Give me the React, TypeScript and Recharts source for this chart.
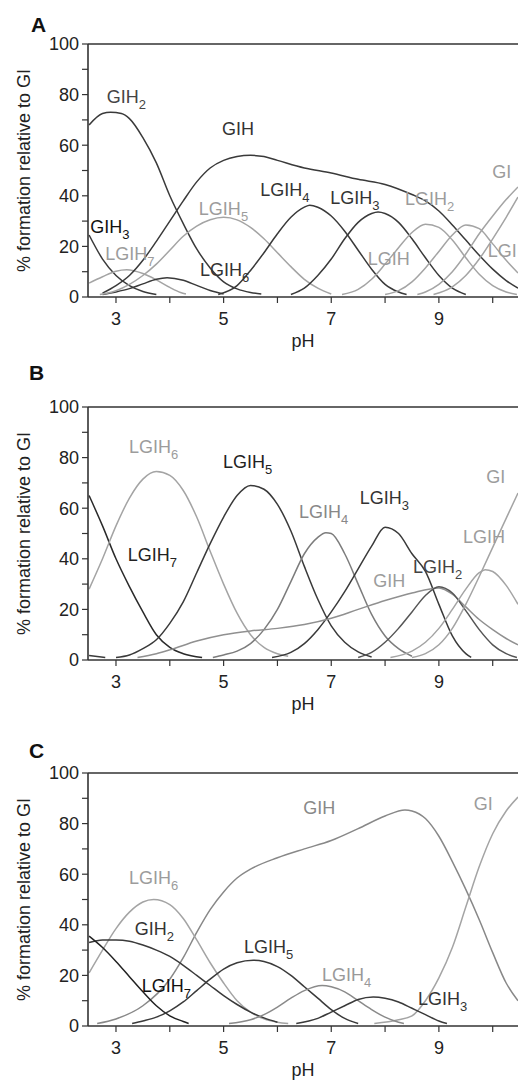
import React from 'react';
import { LineChart, Line, XAxis, YAxis, ReferenceLine, ReferenceDot } from 'recharts';

// pH / % pairs
const aGIH3 = [[2.5, 24.5], [2.75, 15], [3, 8.5], [3.25, 4.5], [3.5, 2.2], [3.75, 1]];
const aGIH2 = [[2.5, 68], [2.75, 72.5], [2.9, 73], [3.1, 72.5], [3.25, 70.5], [3.5, 63], [3.75, 53], [4, 40], [4.25, 29], [4.5, 19], [4.75, 11.5], [5, 6], [5.25, 3.2], [5.5, 1.8], [5.7, 1.2]];
const aLGIH7 = [[2.5, 5.5], [2.75, 8], [3, 10.2], [3.2, 10.8], [3.5, 9.3], [3.75, 6.8], [4, 3.8], [4.2, 1.8], [4.3, 1.2]];
const aLGIH6 = [[2.75, 1], [3, 2], [3.25, 3.3], [3.5, 5.2], [3.75, 7], [3.95, 7.6], [4.25, 6.6], [4.5, 4.6], [4.75, 2.6], [5, 1.2]];
const aGIH = [[2.75, 1.5], [3, 4.5], [3.25, 8.5], [3.5, 14.5], [3.75, 22], [4, 30], [4.25, 38], [4.5, 45.5], [4.75, 51], [5, 54], [5.25, 55.5], [5.5, 56], [5.75, 55.5], [6, 54], [6.5, 51], [7, 49], [7.5, 46.5], [8, 44.5], [8.5, 40.5], [8.75, 38], [9, 34], [9.25, 28.5], [9.5, 22.5], [9.75, 16.5], [10, 11], [10.25, 6.5], [10.47, 3.5]];
const aLGIH5 = [[2.7, 1], [3, 2.5], [3.25, 5], [3.5, 8.5], [3.75, 13], [4, 18.5], [4.25, 24], [4.5, 28], [4.75, 30.5], [5, 31.5], [5.25, 30.5], [5.5, 27.5], [5.75, 23], [6, 17.5], [6.25, 12], [6.5, 7], [6.75, 3.5], [7, 1.2]];
const aLGIH4 = [[4.9, 1], [5.25, 4.5], [5.5, 10.5], [5.75, 17.5], [6, 25], [6.25, 31.5], [6.5, 35.5], [6.6, 36.3], [6.75, 35.5], [7, 32], [7.25, 26], [7.5, 18.5], [7.75, 11], [8, 5], [8.25, 2], [8.4, 1]];
const aLGIH3 = [[6.25, 1], [6.5, 3.5], [6.75, 8.5], [7, 15], [7.25, 23], [7.5, 29.5], [7.75, 33], [7.87, 33.6], [8, 33], [8.25, 29.5], [8.5, 23], [8.75, 15.5], [9, 8.5], [9.25, 3.5], [9.5, 1]];
const aLGIH2 = [[7.2, 1], [7.5, 3], [7.75, 7], [8, 13], [8.25, 19.5], [8.5, 25.5], [8.75, 28.8], [9, 27.5], [9.25, 22.5], [9.5, 15.5], [9.75, 9], [10, 4.5], [10.25, 2], [10.45, 1]];
const aLGIH = [[8, 1], [8.25, 2.5], [8.5, 6], [8.75, 11.5], [9, 18], [9.25, 24.5], [9.5, 28.5], [9.75, 27], [10, 21], [10.25, 14.5], [10.47, 9.5]];
const aGI = [[8.6, 1], [8.75, 2], [9, 5], [9.25, 10], [9.5, 17], [9.75, 25], [10, 32], [10.25, 38.5], [10.47, 43.5]];
const aLGI = [[8.9, 1], [9.25, 4], [9.5, 8.5], [9.75, 15], [10, 23], [10.25, 31.5], [10.47, 39.5]];

const bTail = [[2.5, 1.8], [2.8, 1]];
const bLGIH7 = [[2.5, 65], [2.75, 53], [3, 40], [3.25, 29], [3.5, 19], [3.75, 10], [4, 5], [4.25, 2.5], [4.6, 1]];
const bLGIH6 = [[2.5, 28], [2.75, 40], [3, 53], [3.25, 64], [3.5, 71.5], [3.75, 74.5], [4, 73], [4.25, 67], [4.5, 56.5], [4.75, 43], [5, 30], [5.25, 18.5], [5.5, 10], [5.75, 5], [6, 2.5], [6.2, 1.5]];
const bLGIH5 = [[3, 1], [3.25, 2], [3.5, 4.5], [3.75, 8], [4, 14.5], [4.25, 23], [4.5, 34.5], [4.75, 46], [5, 56.5], [5.25, 65], [5.5, 69], [5.75, 67.5], [6, 61.5], [6.25, 51], [6.5, 37], [6.75, 24], [7, 13.5], [7.25, 7], [7.5, 3.2], [7.75, 1.2]];
const bLGIH4 = [[4.8, 1], [5, 2], [5.25, 3.5], [5.5, 6.5], [5.75, 12], [6, 20], [6.25, 31], [6.5, 42], [6.75, 48.5], [6.9, 50.3], [7, 50], [7.25, 42], [7.5, 30], [7.75, 18], [8, 9.5], [8.25, 4.5], [8.5, 1.5]];
const bLGIH3 = [[5.9, 1], [6.25, 3], [6.5, 6.5], [6.75, 12], [7, 19], [7.25, 27], [7.5, 36], [7.75, 45], [8, 52.5], [8.25, 50], [8.5, 42], [8.75, 35], [9, 22], [9.25, 9.5], [9.5, 2.5], [9.6, 1]];
const bGIH = [[3.4, 1], [3.75, 2.5], [4, 4], [4.5, 7.5], [5, 10], [5.5, 11.5], [6, 12.5], [6.5, 14], [7, 16.5], [7.5, 20], [8, 23.5], [8.5, 26.5], [9, 28.5], [9.25, 26], [9.5, 21], [9.75, 16], [10, 12], [10.25, 8.5], [10.47, 6]];
const bLGIH2 = [[7.5, 1], [7.75, 3], [8, 7], [8.25, 12.5], [8.5, 19], [8.75, 25.5], [9, 29], [9.25, 26.5], [9.5, 19.5], [9.75, 12], [10, 6], [10.25, 2.5], [10.45, 1]];
const bLGIH = [[8.1, 1], [8.5, 3.5], [8.75, 7], [9, 12.5], [9.25, 20], [9.5, 28], [9.75, 34.5], [9.86, 35.7], [10, 35], [10.25, 29.5], [10.47, 22]];
const bGI = [[8.5, 1], [8.75, 2.5], [9, 6], [9.25, 12.5], [9.5, 22], [9.75, 33], [10, 44.5], [10.25, 56], [10.47, 66]];

const cGIH = [[2.65, 1], [3, 2.8], [3.5, 8], [4, 18.5], [4.25, 27], [4.5, 37], [4.75, 46], [5, 53], [5.25, 58.5], [5.5, 62], [6, 66.5], [6.5, 70], [7, 73.3], [7.5, 78], [8, 83], [8.37, 85.4], [8.5, 85], [8.75, 82], [9, 75], [9.25, 65], [9.5, 54], [9.75, 42], [10, 29], [10.25, 17], [10.47, 10]];
const cGI = [[7.8, 1], [8.25, 2.5], [8.5, 4], [8.75, 10], [9, 19], [9.25, 31], [9.5, 47], [9.75, 63], [10, 76], [10.25, 85], [10.47, 90.5]];
const cLGIH6 = [[2.5, 21], [2.75, 30], [3, 38.5], [3.25, 45], [3.5, 49], [3.7, 50], [4, 48], [4.25, 42.5], [4.5, 34], [4.75, 25], [5, 17], [5.25, 10], [5.5, 5.5], [5.75, 2.8], [6, 1.5], [6.2, 1]];
const cGIH2 = [[2.5, 33], [2.75, 34], [3, 34], [3.25, 33.5], [3.5, 32], [3.75, 30], [4, 27.5], [4.25, 24], [4.5, 20], [4.75, 16], [5, 12], [5.25, 8.5], [5.5, 5.5], [5.75, 3.2], [6, 1.5]];
const cLGIH7 = [[2.5, 35.5], [2.75, 31], [3, 25.5], [3.25, 19.5], [3.5, 13.5], [3.75, 8], [4, 4], [4.25, 1.8], [4.35, 1]];
const cLGIH5 = [[3.3, 1], [3.5, 2], [3.75, 3.5], [4, 6], [4.25, 9.5], [4.5, 14], [4.75, 18.5], [5, 22.5], [5.25, 25], [5.55, 26], [5.75, 25.5], [6, 23.5], [6.25, 20], [6.5, 15.5], [6.75, 11], [7, 6.5], [7.25, 3], [7.5, 1]];
const cLGIH4 = [[5.1, 1], [5.5, 2.5], [5.75, 4.5], [6, 7.5], [6.25, 11], [6.5, 14], [6.83, 16], [7, 15.5], [7.25, 13.5], [7.5, 10], [7.75, 6.5], [8, 3.5], [8.25, 1.5], [8.35, 1]];
const cLGIH3 = [[6.35, 1], [6.75, 3], [7, 5.5], [7.25, 8], [7.5, 10.5], [7.78, 11.5], [8, 11], [8.25, 9.5], [8.5, 7], [8.75, 4.5], [9, 2], [9.15, 1]];

const xTicks = [3, 4, 5, 6, 7, 8, 9, 10];
const yTicks = [0, 10, 20, 30, 40, 50, 60, 70, 80, 90, 100];

const DARK = '#3a3a3a';
const MID = '#7c7c7c';
const LIGHT = '#a4a4a4';
const FONT = '"Liberation Sans", Arial, Helvetica, sans-serif';

const toPts = (arr: number[][]) => arr.map(([ph, v]) => ({ ph, v }));

const seriesA = [
  { id: 'GIH3', pts: aGIH3, c: DARK },
  { id: 'GIH2', pts: aGIH2, c: DARK },
  { id: 'LGIH7', pts: aLGIH7, c: LIGHT },
  { id: 'LGIH6', pts: aLGIH6, c: DARK },
  { id: 'GIH', pts: aGIH, c: DARK },
  { id: 'LGIH5', pts: aLGIH5, c: LIGHT },
  { id: 'LGIH4', pts: aLGIH4, c: DARK },
  { id: 'LGIH3', pts: aLGIH3, c: DARK },
  { id: 'LGIH2', pts: aLGIH2, c: LIGHT },
  { id: 'LGIH', pts: aLGIH, c: LIGHT },
  { id: 'GI', pts: aGI, c: LIGHT },
  { id: 'LGI', pts: aLGI, c: LIGHT },
];
const seriesB = [
  { id: 'tail', pts: bTail, c: DARK },
  { id: 'LGIH7', pts: bLGIH7, c: '#2a2a2a' },
  { id: 'LGIH6', pts: bLGIH6, c: LIGHT },
  { id: 'LGIH5', pts: bLGIH5, c: DARK },
  { id: 'LGIH4', pts: bLGIH4, c: MID },
  { id: 'LGIH3', pts: bLGIH3, c: DARK },
  { id: 'GIH', pts: bGIH, c: '#909090' },
  { id: 'LGIH2', pts: bLGIH2, c: '#555555' },
  { id: 'LGIH', pts: bLGIH, c: LIGHT },
  { id: 'GI', pts: bGI, c: LIGHT },
];
const seriesC = [
  { id: 'GIH', pts: cGIH, c: '#888888' },
  { id: 'GI', pts: cGI, c: LIGHT },
  { id: 'LGIH6', pts: cLGIH6, c: LIGHT },
  { id: 'GIH2', pts: cGIH2, c: DARK },
  { id: 'LGIH7', pts: cLGIH7, c: '#222222' },
  { id: 'LGIH5', pts: cLGIH5, c: DARK },
  { id: 'LGIH4', pts: cLGIH4, c: '#8a8a8a' },
  { id: 'LGIH3', pts: cLGIH3, c: DARK },
];

// species names; position = text start / baseline in data units
const labelsA = [
  { main: 'GIH', sub: '2', ph: 2.83, v: 76.7, c: '#444' },
  { main: 'GIH', sub: '', ph: 4.97, v: 64, c: '#333' },
  { main: 'LGIH', sub: '4', ph: 5.68, v: 40, c: '#333' },
  { main: 'LGIH', sub: '3', ph: 6.98, v: 36.8, c: '#333' },
  { main: 'LGIH', sub: '2', ph: 8.37, v: 36.4, c: '#9c9c9c' },
  { main: 'LGIH', sub: '5', ph: 4.54, v: 32.4, c: '#9c9c9c' },
  { main: 'GI', sub: '', ph: 9.99, v: 47, c: '#9c9c9c' },
  { main: 'GIH', sub: '3', ph: 2.52, v: 25.3, c: '#111' },
  { main: 'LGIH', sub: '7', ph: 2.8, v: 14.6, c: '#9c9c9c' },
  { main: 'LGIH', sub: '6', ph: 4.56, v: 8.3, c: '#333' },
  { main: 'LGIH', sub: '', ph: 7.68, v: 12.6, c: '#9c9c9c' },
  { main: 'LGI', sub: '', ph: 9.91, v: 15.8, c: '#9c9c9c' },
];
const labelsB = [
  { main: 'LGIH', sub: '6', ph: 3.24, v: 81.7, c: '#9c9c9c' },
  { main: 'LGIH', sub: '5', ph: 4.99, v: 76, c: '#222' },
  { main: 'LGIH', sub: '4', ph: 6.4, v: 56, c: '#888' },
  { main: 'LGIH', sub: '3', ph: 7.53, v: 61.5, c: '#333' },
  { main: 'GI', sub: '', ph: 9.88, v: 70, c: '#9c9c9c' },
  { main: 'LGIH', sub: '7', ph: 3.22, v: 39, c: '#222' },
  { main: 'LGIH', sub: '', ph: 9.45, v: 46.4, c: '#9c9c9c' },
  { main: 'GIH', sub: '', ph: 7.78, v: 29, c: '#9c9c9c' },
  { main: 'LGIH', sub: '2', ph: 8.52, v: 34.5, c: '#444' },
];
const labelsC = [
  { main: 'GIH', sub: '', ph: 6.48, v: 83.9, c: '#888' },
  { main: 'GI', sub: '', ph: 9.65, v: 85.4, c: '#9c9c9c' },
  { main: 'LGIH', sub: '6', ph: 3.24, v: 56.3, c: '#9c9c9c' },
  { main: 'GIH', sub: '2', ph: 3.35, v: 35.8, c: '#333' },
  { main: 'LGIH', sub: '5', ph: 5.38, v: 28.7, c: '#333' },
  { main: 'LGIH', sub: '4', ph: 6.83, v: 17.7, c: '#999' },
  { main: 'LGIH', sub: '7', ph: 3.48, v: 13.4, c: '#111' },
  { main: 'LGIH', sub: '3', ph: 8.61, v: 8.3, c: '#333' },
];

const SubLabel = (props: any) => {
  const { viewBox, main, sub, color } = props;
  const x = viewBox ? viewBox.x + (viewBox.width || 0) / 2 : 0;
  const y = viewBox ? viewBox.y + (viewBox.height || 0) / 2 : 0;
  return (
    <text x={x} y={y} fill={color} fontSize={18} fontFamily={FONT}>
      {main}
      {sub ? (
        <tspan fontSize={13} dy={6}>
          {sub}
        </tspan>
      ) : null}
    </text>
  );
};

const Panel = ({ top, series, labels }: any) => (
  <div style={{ position: 'absolute', left: 0, top }}>
    <LineChart width={518} height={360} margin={{ top: 44, right: 0, bottom: 13, left: 0 }}>
      <XAxis
        type='number'
        dataKey='ph'
        domain={[2.48, 10.47]}
        allowDataOverflow
        ticks={xTicks}
        interval={0}
        tickFormatter={(t: number) => (t % 2 ? String(t) : '')}
        height={50}
        tickSize={6}
        tickMargin={9}
        axisLine={{ stroke: '#333', strokeWidth: 1.6 }}
        tickLine={{ stroke: '#333', strokeWidth: 1.2 }}
        tick={{ fill: '#222', fontSize: 18, fontFamily: FONT }}
        label={{ value: 'pH', position: 'insideBottom', offset: 0, fill: '#222', fontSize: 18, fontFamily: FONT }}
      />
      <YAxis
        type='number'
        domain={[0, 100]}
        ticks={yTicks}
        interval={0}
        tickFormatter={(t: number) => (t % 20 === 0 ? String(t) : '')}
        width={88}
        tickSize={6}
        tickMargin={3}
        axisLine={{ stroke: '#333', strokeWidth: 1.6 }}
        tickLine={{ stroke: '#333', strokeWidth: 1.2 }}
        tick={{ fill: '#222', fontSize: 18, fontFamily: FONT }}
        label={{
          value: '% formation relative to GI',
          angle: -90,
          position: 'insideLeft',
          offset: 24,
          fill: '#222',
          fontSize: 18,
          fontFamily: FONT,
          style: { textAnchor: 'middle' },
        }}
      />
      <ReferenceLine y={100} stroke='#333' strokeWidth={1.6} />
      {series.map((s: any) => (
        <Line
          key={s.id}
          data={toPts(s.pts)}
          dataKey='v'
          type='monotone'
          stroke={s.c}
          strokeWidth={1.5}
          dot={false}
          activeDot={false}
          isAnimationActive={false}
        />
      ))}
      {labels.map((l: any, i: number) => (
        <ReferenceDot
          key={i}
          x={l.ph}
          y={l.v}
          r={0}
          fill='none'
          stroke='none'
          label={<SubLabel main={l.main} sub={l.sub} color={l.c} />}
        />
      ))}
    </LineChart>
  </div>
);

export default function App() {
  return (
    <div style={{ position: 'absolute', left: 0, top: 0, width: 518, height: 1081, overflow: 'hidden', background: '#fff' }}>
      <Panel top={0} series={seriesA} labels={labelsA} />
      <Panel top={363} series={seriesB} labels={labelsB} />
      <Panel top={729} series={seriesC} labels={labelsC} />
      <svg width={518} height={1081} style={{ position: 'absolute', left: 0, top: 0, pointerEvents: 'none' }}>
        <text x={31} y={32} fontSize={21} fontWeight='bold' fontFamily={FONT} fill='#111'>A</text>
        <text x={29} y={380} fontSize={21} fontWeight='bold' fontFamily={FONT} fill='#111'>B</text>
        <text x={29} y={758} fontSize={21} fontWeight='bold' fontFamily={FONT} fill='#111'>C</text>
      </svg>
    </div>
  );
}
